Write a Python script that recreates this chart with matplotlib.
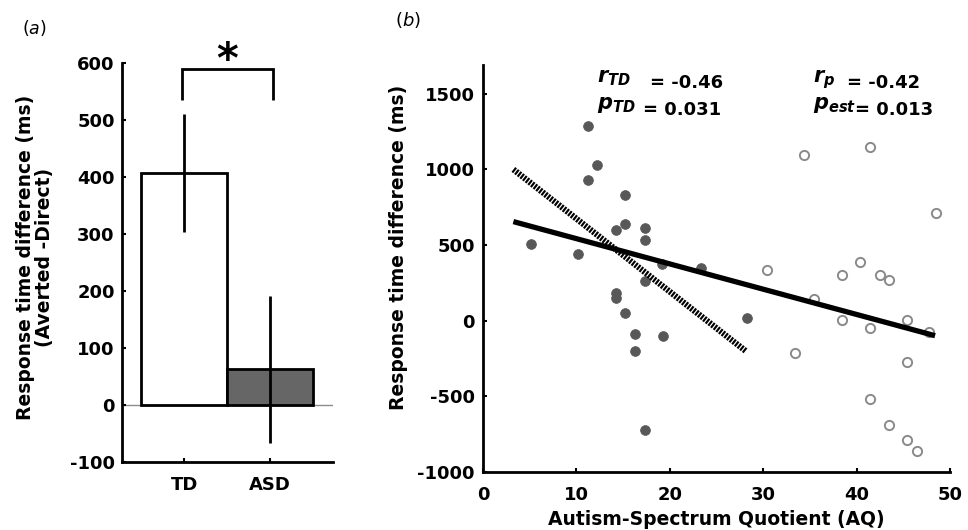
import matplotlib
matplotlib.use("Agg")
import matplotlib.pyplot as plt

plt.rcParams['font.family'] = ['DejaVu Sans']
plt.rcParams['axes.unicode_minus'] = False
plt.rcParams['mathtext.fontset'] = 'custom'
plt.rcParams['mathtext.it'] = 'DejaVu Sans:italic:bold'
plt.rcParams['mathtext.rm'] = 'DejaVu Sans:bold'
plt.rcParams['mathtext.sf'] = 'DejaVu Sans:italic'

# ---- Panel (a) data ----
categories = ['TD', 'ASD']
bar_means = [407, 62]
bar_errs = [104, 129]
bar_colors = ['white', '#666666']

# ---- Panel (b) data ----
td_aq = [11.2, 12.2, 11.2, 15.2, 15.2, 14.2, 17.3, 17.3, 5.1, 10.2, 19.2, 23.3,
         17.3, 14.2, 14.2, 15.2, 16.3, 19.3, 16.3, 28.3, 17.3]
td_rt = [1290, 1030, 930, 830, 640, 600, 610, 530, 505, 440, 375, 350,
         260, 180, 150, 50, -90, -100, -200, 20, -725]
asd_aq = [34.4, 41.4, 48.5, 30.4, 38.4, 40.4, 42.5, 43.5, 35.4, 38.4, 41.4, 45.4,
          47.7, 33.4, 45.4, 41.4, 43.5, 45.4, 46.5]
asd_rt = [1095, 1150, 710, 335, 300, 390, 300, 270, 145, 5, -50, 5,
          -75, -215, -275, -520, -690, -790, -865]
td_fit_x = [3.25, 28.2]
td_fit_y = [1000, -205]
all_fit_x = [3.25, 48.4]
all_fit_y = [655, -100]

FS = 13
LFS = 13.5
fig = plt.figure(figsize=(9.68, 5.30), dpi=100)

# ---------------- Panel (a) ----------------
axa = fig.add_axes([0.1257, 0.1289, 0.2183, 0.752])
xpos = [1, 2]
axa.axhline(0, color='#8c8c8c', lw=1.0, zorder=1)
axa.bar(xpos, bar_means, width=1.0, color=bar_colors, edgecolor='black',
        linewidth=2.0, zorder=2)
axa.errorbar(xpos, bar_means, yerr=bar_errs, fmt='none', ecolor='black',
             elinewidth=2.0, capsize=0, zorder=3)
axa.set_xlim(0.27, 2.73)
axa.set_ylim(-100, 600)
axa.set_xticks(xpos)
axa.set_xticklabels(categories, fontweight='bold', fontsize=FS)
axa.set_yticks([-100, 0, 100, 200, 300, 400, 500, 600])
for lbl in axa.get_yticklabels():
    lbl.set_fontweight('bold')
    lbl.set_fontsize(FS)
for s in ['top', 'right']:
    axa.spines[s].set_visible(False)
for s in ['left', 'bottom']:
    axa.spines[s].set_linewidth(2.0)
axa.tick_params(axis='y', direction='in', length=3, width=1.5, pad=5)
axa.tick_params(axis='x', direction='in', length=3, width=1.5, pad=10)
axa.set_ylabel('Response time difference (ms)\n(Averted -Direct)',
               fontweight='bold', fontsize=LFS, linespacing=1.0)
axa.yaxis.set_label_coords(-0.32, 0.513)
# significance bracket
axa.plot([0.97, 0.97, 2.03, 2.03], [535, 590, 590, 535], color='black',
         lw=2.0, clip_on=False, solid_capstyle='butt', solid_joinstyle='miter')
axa.text(1.5, 566, '*', ha='center', va='bottom', fontsize=30,
         fontweight='bold')

fig.text(22 / 968, 1 - 28 / 530, r'($\mathsf{a}$)', fontsize=12.5,
         ha='left', va='center')

# ---------------- Panel (b) ----------------
axb = fig.add_axes([0.499, 0.110, 0.4824, 0.767])
axb.scatter(td_aq, td_rt, s=50, color='#585858', edgecolors='#585858',
            linewidths=0.5, zorder=2)
axb.scatter(asd_aq, asd_rt, s=44, facecolors='white', edgecolors='#8a8a8a',
            linewidths=1.4, zorder=2)
axb.plot(all_fit_x, all_fit_y, color='black', lw=3.8, zorder=3,
         solid_capstyle='butt')
axb.plot(td_fit_x, td_fit_y, color='#000000', lw=4.4, zorder=4,
         linestyle=(0, (0.35, 0.2)), dash_capstyle='butt')
axb.set_xlim(0, 50)
axb.set_ylim(-1000, 1690)
axb.set_xticks([0, 10, 20, 30, 40, 50])
axb.set_yticks([-1000, -500, 0, 500, 1000, 1500])
for lbl in axb.get_xticklabels() + axb.get_yticklabels():
    lbl.set_fontweight('bold')
    lbl.set_fontsize(FS)
for s in ['top', 'right']:
    axb.spines[s].set_visible(False)
for s in ['left', 'bottom']:
    axb.spines[s].set_linewidth(2.0)
axb.tick_params(axis='y', direction='in', length=3, width=1.5, pad=6)
axb.tick_params(axis='x', direction='in', length=3, width=1.5, pad=10)
axb.set_ylabel('Response time difference (ms)', fontweight='bold', fontsize=LFS)
axb.yaxis.set_label_coords(-0.161, 0.552)
axb.set_xlabel('Autism-Spectrum Quotient (AQ)', fontweight='bold', fontsize=LFS)
axb.xaxis.set_label_coords(0.50, -0.094)

# statistics text
MFS = 15
axb.text(12.2, 1575, r'$r_{TD}$', fontsize=MFS, ha='left', va='baseline')
axb.text(17.9, 1536, '= -0.46', fontsize=FS, fontweight='bold', ha='left', va='baseline')
axb.text(12.2, 1400, r'$p_{TD}$', fontsize=MFS, ha='left', va='baseline')
axb.text(17.1, 1358, '= 0.031', fontsize=FS, fontweight='bold', ha='left', va='baseline')
axb.text(35.3, 1575, r'$r_{p}$', fontsize=MFS, ha='left', va='baseline')
axb.text(39.0, 1536, '= -0.42', fontsize=FS, fontweight='bold', ha='left', va='baseline')
axb.text(35.3, 1400, r'$p_{est}$', fontsize=MFS, ha='left', va='baseline')
axb.text(39.8, 1358, '= 0.013', fontsize=FS, fontweight='bold', ha='left', va='baseline')

fig.text(395 / 968, 1 - 20 / 530, r'($\mathsf{b}$)', fontsize=13,
         ha='left', va='center')

fig.savefig('out.png', dpi=100)
